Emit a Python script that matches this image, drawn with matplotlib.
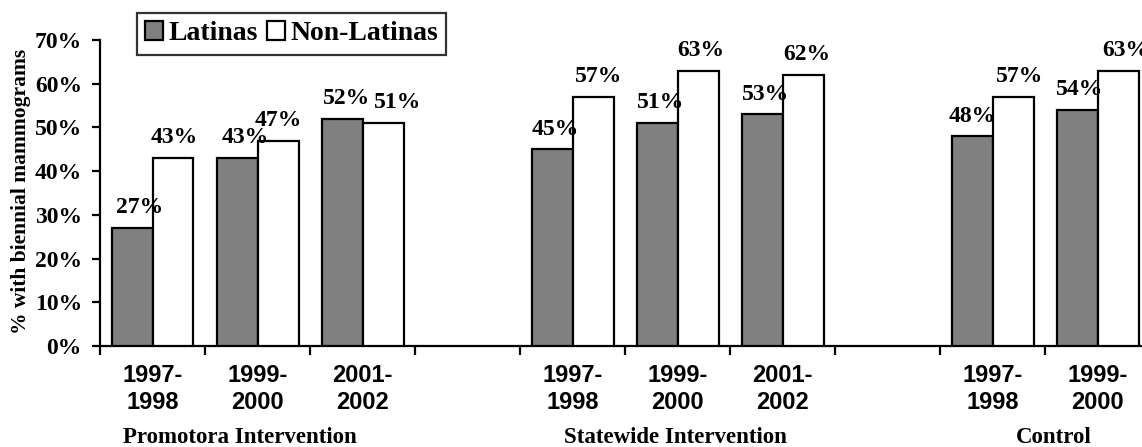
import matplotlib
matplotlib.use("Agg")
import matplotlib.pyplot as plt
import matplotlib.transforms as mtransforms
from matplotlib.patches import Patch
import numpy as np

# Biennial mammography rates by study arm and period
periods = ["1997-\n1998", "1999-\n2000", "2001-\n2002"]
groups = ["Promotora Intervention", "Statewide Intervention", "Control"]
latinas = [27, 43, 52, 45, 51, 53, 48, 54]
non_latinas = [43, 47, 51, 57, 63, 62, 57, 63]
period_of_bar = [0, 1, 2, 0, 1, 2, 0, 1]
group_of_bar = [0, 0, 0, 1, 1, 1, 2, 2]
yticks = [0, 10, 20, 30, 40, 50, 60, 70]

SERIF = ["Liberation Serif", "DejaVu Serif"]
SANS = ["Liberation Sans", "DejaVu Sans"]

# each group takes three slots plus one empty slot between groups
slots = np.array([g * 4 + p for g, p in zip(group_of_bar, period_of_bar)], dtype=float)

fig = plt.figure(figsize=(11.42, 4.47), dpi=100)
ax = fig.add_axes([100 / 1142, 101 / 447, 1.0 - 100 / 1142, 306 / 447])

bw = 0.39
kw = dict(width=bw, edgecolor="black", linewidth=1.6, zorder=3)
b1 = ax.bar(slots - bw / 2, latinas, color="#808080", **kw)
b2 = ax.bar(slots + bw / 2, non_latinas, color="white", **kw)

# horizontal nudges (pixels) so neighbouring value labels stay readable
nudge_lat = [8, 8, 4, 3, 3, 3, 0, 2]
nudge_non = [1, 0, 15, 5, 3, 4, 6, 7]
for bars, vals, nudges in ((b1, latinas, nudge_lat), (b2, non_latinas, nudge_non)):
    for rect, v, dx in zip(bars, vals, nudges):
        ax.annotate(f"{v}%", (rect.get_x() + rect.get_width() / 2, v),
                    xytext=(dx * 0.72, 10.5), textcoords="offset points",
                    ha="center", va="baseline", fontsize=17,
                    fontweight="bold", family=SERIF, zorder=5,
                    annotation_clip=False)

ax.set_yticks(yticks)
ax.set_yticklabels([f"{t}%" for t in yticks], fontsize=17,
                   fontweight="bold", family=SERIF)
ax.tick_params(axis="y", direction="out", length=6, width=1.6, pad=7)

# boundary tick marks between slots, period labels centred in each slot
ax.set_xticks(np.arange(-0.5, 10, 1.0))
ax.set_xticklabels([])
ax.tick_params(axis="x", which="major", direction="out", length=6.5, width=1.6)
ax.set_xticks(slots, minor=True)
ax.set_xticklabels([periods[p] for p in period_of_bar], minor=True,
                   fontsize=17, fontweight="bold", family=SANS)
ax.tick_params(axis="x", which="minor", length=0, pad=13)

ax.set_ylim(0, 70)
ax.set_xlim(-0.5, 9.42)

for s in ["top", "right"]:
    ax.spines[s].set_visible(False)
for s in ["left", "bottom"]:
    ax.spines[s].set_linewidth(1.6)

# study arm names under the period labels
group_centres = [0.83, 4.98, 8.58]
blend = mtransforms.blended_transform_factory(ax.transData, fig.transFigure)
for name, xc in zip(groups, group_centres):
    ax.text(xc, 4 / 447, name, transform=blend,
            ha="center", va="baseline", fontsize=16.5, fontweight="bold",
            family=SERIF, clip_on=False)

fig.text(21 / 1142, (447 - 191) / 447, "% with biennial mammograms",
         rotation=90, ha="center", va="center", fontsize=15.5,
         fontweight="bold", family=SERIF)

handles = [Patch(facecolor="#808080", edgecolor="black", linewidth=1.6),
           Patch(facecolor="white", edgecolor="black", linewidth=1.6)]
leg = fig.legend(handles, ["Latinas", "Non-Latinas"], ncol=2,
                 loc="upper left", bbox_to_anchor=(137 / 1142, 1 - 13 / 447),
                 prop={"family": SERIF, "weight": "bold", "size": 20},
                 frameon=True, fancybox=False, shadow=False,
                 handlelength=0.65, handleheight=0.65, handletextpad=0.2,
                 columnspacing=0.3, borderpad=0.3, borderaxespad=0)
leg.get_frame().set_edgecolor("black")
leg.get_frame().set_linewidth(1.6)

fig.savefig("out.png", dpi=100)
